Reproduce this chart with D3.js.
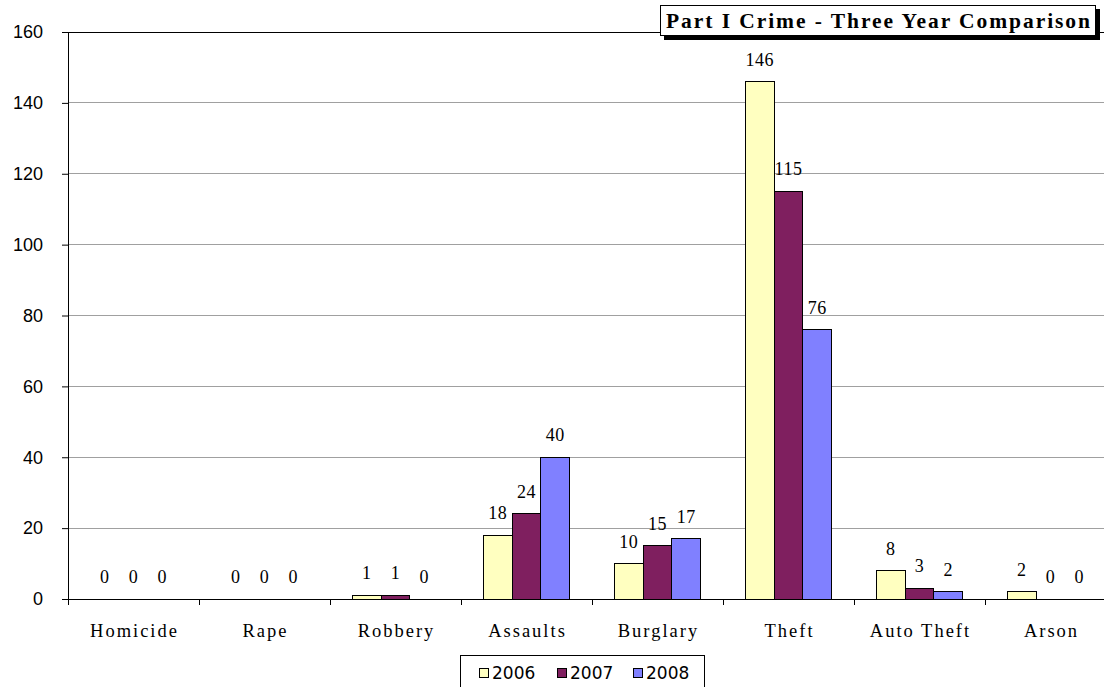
<!DOCTYPE html>
<html><head><meta charset="utf-8">
<script src="https://cdn.jsdelivr.net/npm/d3@7"></script>
<style>body{margin:0;background:#fff}</style>
</head><body>
<svg id="c" width="1104" height="687"></svg>
<script>
const categories = ["Homicide","Rape","Robbery","Assaults","Burglary","Theft","Auto Theft","Arson"];
const years = ["2006","2007","2008"];
const v2006 = [0,0,1,18,10,146,8,2];
const v2007 = [0,0,1,24,15,115,3,0];
const v2008 = [0,0,0,40,17,76,2,0];
const yTicks = [0,20,40,60,80,100,120,140,160];
const colors = ["#ffffc0","#7f1f5f","#8080ff"];
const series = [v2006, v2007, v2008];

const svg = d3.select("#c");
const pL = 68, pR = 1116, pT = 32, pB = 599;
const x = d3.scaleBand().domain(categories).range([pL, pR]);
const xs = d3.scaleBand().domain(years).range([0, x.bandwidth()]).paddingInner(0).paddingOuter(0.78);
const y = d3.scaleLinear().domain([0,160]).range([pB, pT]);

// gridlines
svg.append("g").selectAll("line").data(yTicks.filter(t=>t>0 && t<160)).join("line")
  .attr("x1", pL).attr("x2", pR).attr("y1", d=>y(d)).attr("y2", d=>y(d))
  .attr("stroke", "#a0a0a0").attr("stroke-width", 1).attr("shape-rendering","crispEdges");
svg.append("line").attr("x1", pL).attr("x2", pR).attr("y1", y(160)).attr("y2", y(160))
  .attr("stroke","#000").attr("shape-rendering","crispEdges");

// bars
const g = svg.append("g");
series.forEach((s, i) => {
  g.selectAll(".b"+i).data(categories).join("rect").attr("class","b"+i)
    .attr("x", c => x(c) + xs(years[i]))
    .attr("width", xs.bandwidth())
    .attr("y", (c, j) => y(s[j]))
    .attr("height", (c, j) => pB - y(s[j]))
    .attr("fill", colors[i]).attr("stroke", "#000").attr("stroke-width", 1)
    .attr("shape-rendering","crispEdges")
    .style("display", (c,j)=> s[j] > 0 ? null : "none");
  g.selectAll(".l"+i).data(categories).join("text").attr("class","l"+i)
    .attr("x", c => x(c) + xs(years[i]) + xs.bandwidth()/2)
    .attr("y", (c, j) => y(s[j]) - 16)
    .attr("text-anchor","middle")
    .attr("font-family","Liberation Serif, serif").attr("font-size", 18)
    .attr("letter-spacing", 0.5)
    .text((c,j)=>s[j]);
});

// y axis
const ya = d3.axisLeft(y).tickValues(yTicks).tickSize(6).tickPadding(19).tickFormat(d3.format("d"));
svg.append("g").attr("transform",`translate(${pL},0)`).call(ya)
  .call(g=>g.select(".domain").attr("stroke","#000"))
  .call(g=>g.selectAll("text").attr("font-family","Liberation Sans, sans-serif").attr("font-size",18).attr("fill","#000"));

// x axis
svg.append("line").attr("x1", pL).attr("x2", pR).attr("y1", pB).attr("y2", pB).attr("stroke","#000").attr("shape-rendering","crispEdges");
svg.append("g").selectAll("line").data(categories).join("line")
  .attr("x1", c=>x(c)).attr("x2", c=>x(c)).attr("y1", pB).attr("y2", pB+6)
  .attr("stroke","#000").attr("shape-rendering","crispEdges");
svg.append("g").selectAll("text").data(categories).join("text")
  .attr("x", c=>x(c)+x.bandwidth()/2 + 1).attr("y", pB+38)
  .attr("text-anchor","middle").attr("font-family","Liberation Serif, serif").attr("font-size",18.5)
  .attr("letter-spacing", 2)
  .text(c=>c);

// title box
const tb = svg.append("g");
tb.append("rect").attr("x", 664).attr("y", 9).attr("width", 436).attr("height", 31).attr("fill","#000");
tb.append("rect").attr("x", 660.5).attr("y", 5.5).attr("width", 435).attr("height", 30).attr("fill","#fff").attr("stroke","#000");
tb.append("text").attr("x", 666).attr("y", 28)
  .attr("font-family","Liberation Serif, serif").attr("font-weight","bold").attr("font-size",21.5)
  .attr("textLength", 424).attr("lengthAdjust","spacing")
  .text("Part I Crime - Three Year Comparison");

// legend
const lg = svg.append("g");
lg.append("rect").attr("x", 460.5).attr("y", 655.5).attr("width", 244).attr("height", 40).attr("fill","#fff").attr("stroke","#000");
const lx = [479, 557, 633];
years.forEach((yr,i)=>{
  lg.append("rect").attr("x", lx[i]+0.5).attr("y", 668.5).attr("width", 9).attr("height", 9)
    .attr("fill", colors[i]).attr("stroke","#000");
  lg.append("text").attr("x", lx[i]+13).attr("y", 679).attr("font-family","DejaVu Sans, sans-serif").attr("font-size",17).text(yr);
});
</script>
</body></html>
